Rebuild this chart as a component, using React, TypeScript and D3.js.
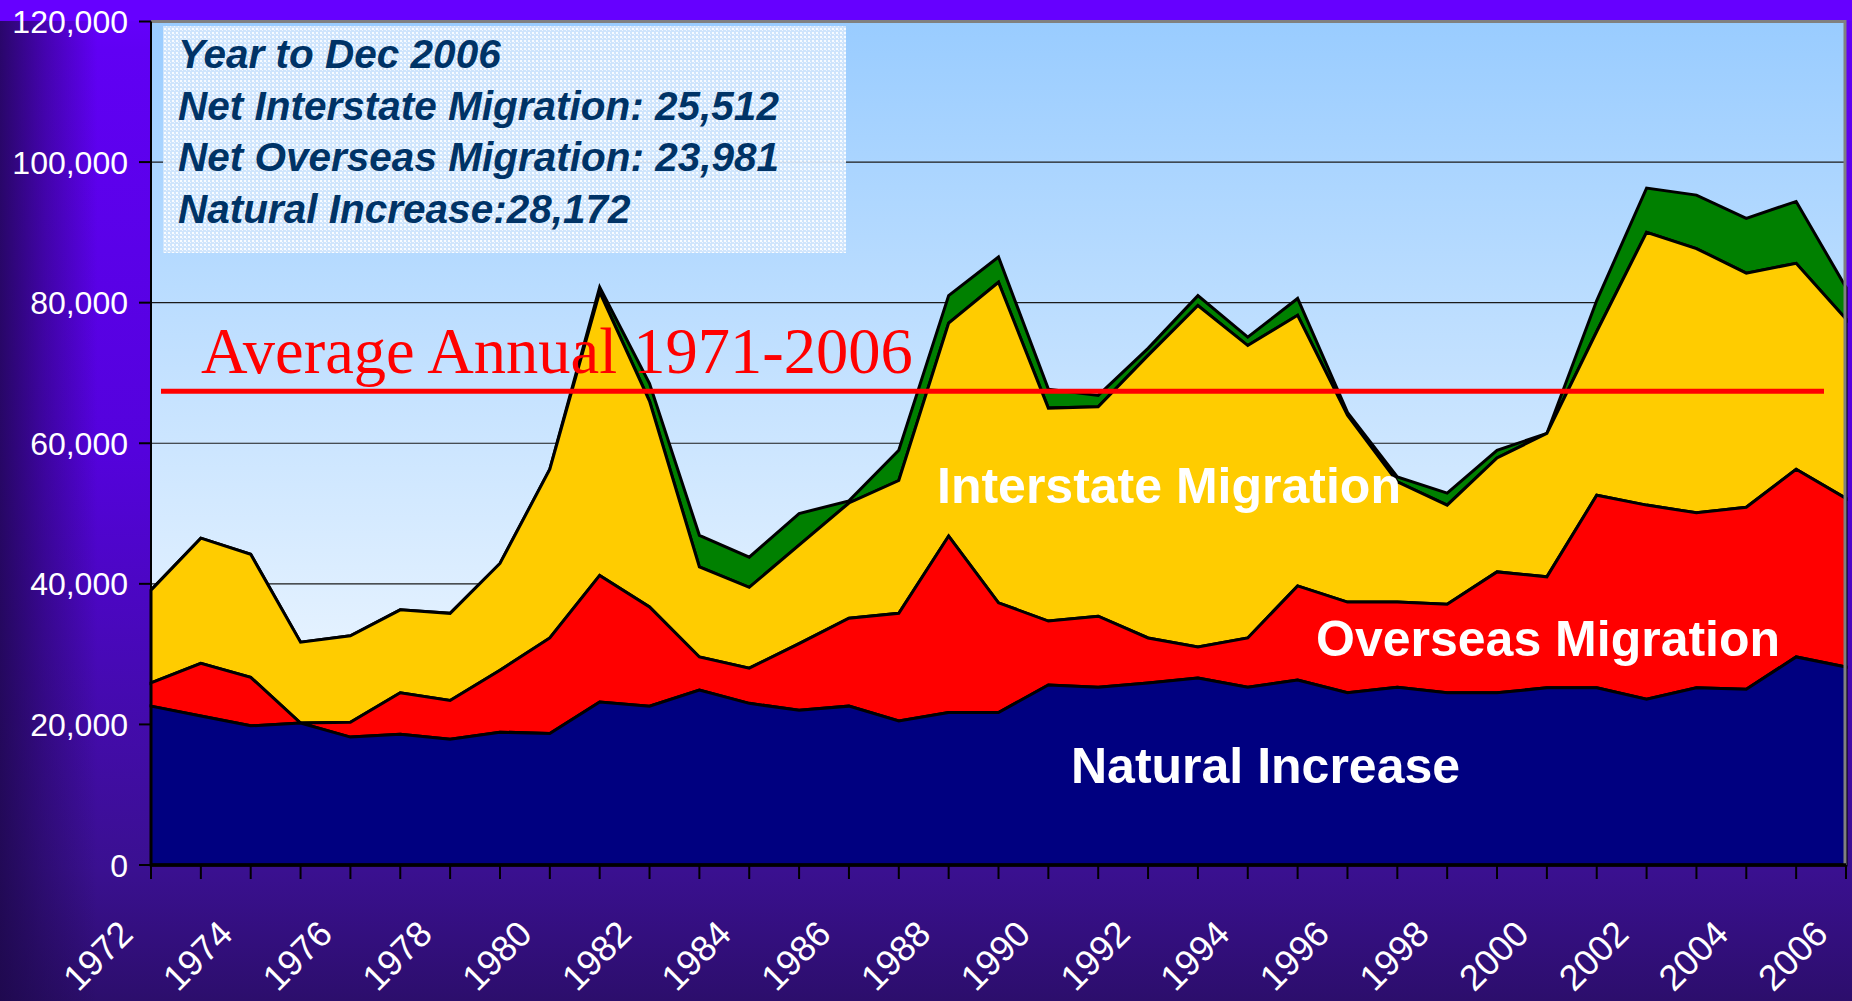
import { useEffect, useRef } from 'react'
import * as d3 from 'd3'

// categories
const years = [
  1972, 1973, 1974, 1975, 1976, 1977, 1978, 1979, 1980, 1981, 1982, 1983,
  1984, 1985, 1986, 1987, 1988, 1989, 1990, 1991, 1992, 1993, 1994, 1995,
  1996, 1997, 1998, 1999, 2000, 2001, 2002, 2003, 2004, 2005, 2006,
]

// series values (persons per year)
const naturalIncrease = [
  22600, 21200, 19800, 20200, 18200, 18600, 17900, 18900, 18700, 23200, 22600,
  24900, 23000, 22000, 22600, 20500, 21700, 21700, 25600, 25300, 25900, 26600,
  25300, 26300, 24500, 25300, 24500, 24500, 25200, 25200, 23600, 25200, 25000,
  29600, 28172,
]
const overseasMigration = [
  3300, 7500, 6900, 0, 2100, 5900, 5500, 8800, 13600, 18000, 14100, 4700, 5000,
  9500, 12500, 15300, 25100, 15600, 9100, 10100, 6400, 4400, 7000, 13400, 12900,
  12100, 12600, 17200, 15800, 27400, 27600, 24900, 25900, 26700, 23981,
]
const interstateMigration = [
  13200, 17800, 17500, 11500, 12300, 11800, 12400, 15200, 24000, 40300, 29300,
  12800, 11500, 14000, 16400, 18900, 30300, 45600, 30300, 29800, 40200, 48600,
  41600, 38500, 26600, 17100, 14100, 16200, 20400, 23300, 38800, 37600, 33300,
  29300, 25512,
]
const otherComponent = [
  0, 0, 0, 0, 0, 0, 0, 0, 0, 700, 2500, 4500, 4300, 4500, 300, 4300, 3900, 3600,
  2700, 1600, 1000, 1400, 1200, 2400, 400, 700, 1700, 1100, 0, 4400, 6300, 7600,
  7800, 8800, 4500,
]

const seriesKeys = ['natural', 'overseas', 'interstate', 'other']
const seriesColors = ['#000080', '#ff0000', '#ffcc00', '#008000']

// axis ticks
const yTickValues = [0, 20000, 40000, 60000, 80000, 100000, 120000]
const xLabelYears = [
  1972, 1974, 1976, 1978, 1980, 1982, 1984, 1986, 1988, 1990, 1992, 1994, 1996,
  1998, 2000, 2002, 2004, 2006,
]

const averageAnnual = 67400
const averageLabel = 'Average Annual 1971-2006'
const boxLines = [
  'Year to Dec 2006',
  'Net Interstate Migration: 25,512',
  'Net Overseas Migration: 23,981',
  'Natural Increase:28,172',
]

const sans = "'Liberation Sans', Arial, sans-serif"
const serif = "'Liberation Serif', 'Times New Roman', serif"

const App = () => {
  const svgRef = useRef<SVGSVGElement | null>(null)

  useEffect(() => {
    if (!svgRef.current) return
    const svg = d3.select(svgRef.current)
    svg.selectAll('*').remove()

    const width = 1852
    const height = 1001
    const plot = { left: 151, right: 1846, top: 21.5, bottom: 865 }

    const defs = svg.append('defs')

    // page background
    const bg = defs
      .append('linearGradient')
      .attr('id', 'pageBg')
      .attr('x1', 0)
      .attr('y1', 0)
      .attr('x2', 0)
      .attr('y2', 1)
    bg.append('stop').attr('offset', 0).attr('stop-color', '#6600ff')
    bg.append('stop').attr('offset', 0.05).attr('stop-color', '#6000f4')
    bg.append('stop').attr('offset', 0.45).attr('stop-color', '#5402dc')
    bg.append('stop').attr('offset', 0.87).attr('stop-color', '#3a1090')
    bg.append('stop').attr('offset', 1).attr('stop-color', '#2c0e6c')

    const leftShade = defs
      .append('linearGradient')
      .attr('id', 'leftShade')
      .attr('x1', 0)
      .attr('y1', 0)
      .attr('x2', 1)
      .attr('y2', 0)
    leftShade
      .append('stop')
      .attr('offset', 0)
      .attr('stop-color', '#1c0848')
      .attr('stop-opacity', 0.8)
    leftShade
      .append('stop')
      .attr('offset', 0.3)
      .attr('stop-color', '#1c0848')
      .attr('stop-opacity', 0.4)
    leftShade
      .append('stop')
      .attr('offset', 0.65)
      .attr('stop-color', '#1c0848')
      .attr('stop-opacity', 0)

    const plotBg = defs
      .append('linearGradient')
      .attr('id', 'plotBg')
      .attr('x1', 0)
      .attr('y1', 0)
      .attr('x2', 0)
      .attr('y2', 1)
    plotBg.append('stop').attr('offset', 0).attr('stop-color', '#99ccff')
    plotBg.append('stop').attr('offset', 1).attr('stop-color', '#ffffff')

    // dotted fill of the note box
    const dots = defs
      .append('pattern')
      .attr('id', 'boxDots')
      .attr('width', 4)
      .attr('height', 4)
      .attr('patternUnits', 'userSpaceOnUse')
    dots.append('rect').attr('width', 4).attr('height', 4).attr('fill', '#d2e6fc')
    dots.append('rect').attr('width', 2).attr('height', 2).attr('fill', '#ffffff')
    dots.append('rect').attr('x', 2).attr('y', 2).attr('width', 1).attr('height', 1).attr('fill', '#f4f9ff')

    svg.append('rect').attr('width', width).attr('height', height).attr('fill', 'url(#pageBg)')
    svg.append('rect').attr('width', 150).attr('height', height).attr('fill', 'url(#leftShade)')
    svg.append('rect').attr('width', width).attr('height', 21).attr('fill', '#6600ff')

    // scales
    const x = d3.scaleLinear().domain([1972, 2006]).range([plot.left, plot.right])
    const y = d3.scaleLinear().domain([0, 120000]).range([plot.bottom, plot.top])

    // plot area
    svg
      .append('rect')
      .attr('x', plot.left)
      .attr('y', plot.top)
      .attr('width', plot.right - plot.left)
      .attr('height', plot.bottom - plot.top)
      .attr('fill', 'url(#plotBg)')

    // gridlines
    svg
      .append('g')
      .selectAll('line')
      .data(yTickValues.filter((v) => v > 0 && v < 120000))
      .join('line')
      .attr('x1', plot.left)
      .attr('x2', plot.right)
      .attr('y1', (d) => y(d))
      .attr('y2', (d) => y(d))
      .attr('stroke', '#1a1a1a')
      .attr('stroke-width', 1.2)

    // stacked areas
    const table = years.map((yr, i) => ({
      year: yr,
      natural: naturalIncrease[i],
      overseas: overseasMigration[i],
      interstate: interstateMigration[i],
      other: otherComponent[i],
    }))
    const stacked = d3.stack<(typeof table)[number]>().keys(seriesKeys)(table)

    const area = d3
      .area<d3.SeriesPoint<(typeof table)[number]>>()
      .x((d) => x(d.data.year))
      .y0((d) => y(d[0]))
      .y1((d) => y(d[1]))

    svg
      .append('g')
      .selectAll('path')
      .data(stacked.slice().reverse())
      .join('path')
      .attr('fill', (d) => seriesColors[d.index])
      .attr('stroke', '#000')
      .attr('stroke-width', 3)
      .attr('stroke-linejoin', 'miter')
      .attr('d', (d) => area(d))

    // frame: gray top and right
    svg
      .append('path')
      .attr('d', `M${plot.left},${plot.top}H${plot.right - 1}V${plot.bottom}`)
      .attr('fill', 'none')
      .attr('stroke', '#808080')
      .attr('stroke-width', 3)

    // y axis
    const yAxis = svg.append('g')
    yAxis
      .append('line')
      .attr('x1', plot.left)
      .attr('x2', plot.left)
      .attr('y1', plot.top)
      .attr('y2', plot.bottom)
      .attr('stroke', '#000')
      .attr('stroke-width', 2)
    yAxis
      .selectAll('line.tick')
      .data(yTickValues)
      .join('line')
      .attr('class', 'tick')
      .attr('x1', plot.left - 12)
      .attr('x2', plot.left)
      .attr('y1', (d) => y(d))
      .attr('y2', (d) => y(d))
      .attr('stroke', '#000')
      .attr('stroke-width', 2)
    yAxis
      .selectAll('text')
      .data(yTickValues)
      .join('text')
      .attr('x', plot.left - 23)
      .attr('y', (d) => y(d))
      .attr('dy', '0.36em')
      .attr('text-anchor', 'end')
      .attr('font-family', sans)
      .attr('font-size', 32)
      .attr('fill', '#ffffff')
      .text((d) => d3.format(',')(d))

    // x axis
    const xAxis = svg.append('g')
    xAxis
      .append('line')
      .attr('x1', plot.left)
      .attr('x2', plot.right)
      .attr('y1', plot.bottom)
      .attr('y2', plot.bottom)
      .attr('stroke', '#000')
      .attr('stroke-width', 3.5)
    xAxis
      .selectAll('line.tick')
      .data(years)
      .join('line')
      .attr('class', 'tick')
      .attr('x1', (d) => x(d))
      .attr('x2', (d) => x(d))
      .attr('y1', plot.bottom)
      .attr('y2', plot.bottom + 14)
      .attr('stroke', '#000')
      .attr('stroke-width', 2)
    xAxis
      .selectAll('text')
      .data(xLabelYears)
      .join('text')
      .attr('transform', (d) => `translate(${x(d) - 16},${936}) rotate(-45)`)
      .attr('text-anchor', 'end')
      .attr('font-family', sans)
      .attr('font-size', 36)
      .attr('fill', '#ffffff')
      .text((d) => String(d))

    // average line + label
    svg
      .append('line')
      .attr('x1', 161)
      .attr('x2', 1824)
      .attr('y1', y(averageAnnual))
      .attr('y2', y(averageAnnual))
      .attr('stroke', '#ff0000')
      .attr('stroke-width', 5)
    svg
      .append('text')
      .attr('x', 201)
      .attr('y', 373)
      .attr('font-family', serif)
      .attr('font-size', 64.5)
      .attr('fill', '#ff0000')
      .text(averageLabel)

    // note box
    svg
      .append('rect')
      .attr('x', 163)
      .attr('y', 26)
      .attr('width', 683)
      .attr('height', 227)
      .attr('fill', 'url(#boxDots)')
      .attr('fill-opacity', 0.92)
    svg
      .append('g')
      .selectAll('text')
      .data(boxLines)
      .join('text')
      .attr('x', 178)
      .attr('y', (_, i) => 68 + i * 51.5)
      .attr('font-family', sans)
      .attr('font-size', 40.5)
      .attr('font-weight', 'bold')
      .attr('font-style', 'italic')
      .attr('fill', '#003366')
      .text((d) => d)

    // series labels
    const seriesLabels = [
      { text: 'Interstate Migration', x: 937, y: 503 },
      { text: 'Overseas Migration', x: 1316, y: 656 },
      { text: 'Natural Increase', x: 1071, y: 783 },
    ]
    svg
      .append('g')
      .selectAll('text')
      .data(seriesLabels)
      .join('text')
      .attr('x', (d) => d.x)
      .attr('y', (d) => d.y)
      .attr('font-family', sans)
      .attr('font-size', 50)
      .attr('font-weight', 'bold')
      .attr('fill', '#ffffff')
      .text((d) => d.text)
  }, [])

  return (
    <svg
      ref={svgRef}
      width={1852}
      height={1001}
      style={{ position: 'absolute', left: 0, top: 0, display: 'block' }}
    ></svg>
  )
}

export default App
